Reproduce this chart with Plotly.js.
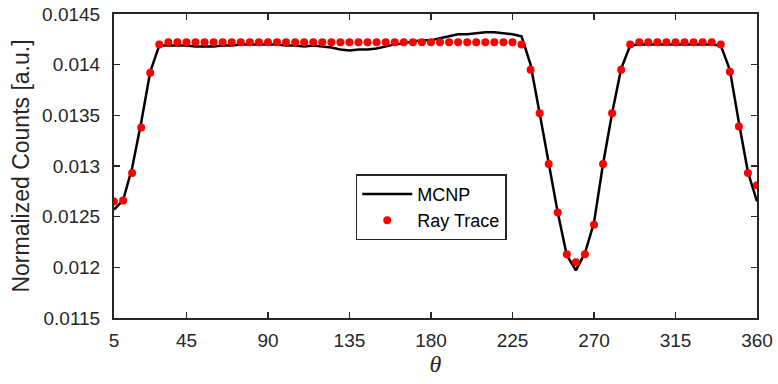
<!DOCTYPE html>
<html>
<head>
<meta charset="utf-8">
<script src="https://cdn.plot.ly/plotly-3.0.1.min.js"></script>
<style>html,body{margin:0;padding:0;background:#fff}#chart{width:778px;height:384px}</style>
</head>
<body>
<div id="chart"></div>
<script>
// Angles (degrees)
var mcnpTheta = [5,10,15,20,25,30,35,40,45,50,55,60,65,70,75,80,85,90,95,100,105,110,115,120,125,130,135,140,145,150,155,160,165,170,175,180,185,190,195,200,205,210,215,220,225,230,235,240,245,250,255,260,265,270,275,280,285,290,295,300,305,310,315,320,325,330,335,340,345,350,355,360];
var mcnpCounts = [0.01257,0.01266,0.01298,0.01343,0.01393,0.01419,0.01419,0.01419,0.01419,0.01418,0.01418,0.01418,0.01419,0.01419,0.01420,0.01420,0.01420,0.01420,0.01420,0.01419,0.01419,0.01418,0.01419,0.01418,0.01417,0.01415,0.01414,0.01415,0.01415,0.01416,0.01418,0.01420,0.01421,0.01423,0.01424,0.01424,0.01426,0.01428,0.01430,0.01430,0.01431,0.01432,0.01432,0.01431,0.01430,0.01428,0.01400,0.01352,0.01302,0.01254,0.01212,0.01197,0.01214,0.01244,0.01302,0.01352,0.01396,0.01419,0.01420,0.01420,0.01420,0.01420,0.01420,0.01420,0.01420,0.01420,0.01420,0.01419,0.01395,0.01343,0.01294,0.01265];
var rayTheta = [5,10,15,20,25,30,35,40,45,50,55,60,65,70,75,80,85,90,95,100,105,110,115,120,125,130,135,140,145,150,155,160,165,170,175,180,185,190,195,200,205,210,215,220,225,230,235,240,245,250,255,260,265,270,275,280,285,290,295,300,305,310,315,320,325,330,335,340,345,350,355,360];
var rayCounts = [0.01265,0.01266,0.01293,0.01338,0.01392,0.01420,0.01422,0.01422,0.01422,0.01422,0.01422,0.01422,0.01422,0.01422,0.01422,0.01422,0.01422,0.01422,0.01422,0.01422,0.01422,0.01422,0.01422,0.01422,0.01422,0.01422,0.01422,0.01422,0.01422,0.01422,0.01422,0.01422,0.01422,0.01422,0.01422,0.01422,0.01422,0.01422,0.01422,0.01422,0.01422,0.01422,0.01422,0.01422,0.01422,0.01420,0.01395,0.01352,0.01302,0.01254,0.01213,0.01205,0.01213,0.01242,0.01302,0.01352,0.01395,0.01420,0.01422,0.01422,0.01422,0.01422,0.01422,0.01422,0.01422,0.01422,0.01422,0.01420,0.01393,0.01339,0.01293,0.01281];
var xTicks = [5,45,90,135,180,225,270,315,360];
var yTicks = [0.0115,0.012,0.0125,0.013,0.0135,0.014,0.0145];
var yTickText = ['0.0115','0.012','0.0125','0.013','0.0135','0.014','0.0145'];

var axisColor = '#262626';
var font = 'Liberation Sans, Arial, sans-serif';

var traces = [
  {x: mcnpTheta, y: mcnpCounts, mode: 'lines', name: 'MCNP',
   line: {color: '#000000', width: 2.5}},
  {x: rayTheta, y: rayCounts, mode: 'markers', name: 'Ray Trace',
   marker: {color: '#ff0000', size: 8}}
];

var layout = {
  width: 778, height: 384,
  margin: {l: 114, r: 21, t: 14, b: 66},
  paper_bgcolor: '#ffffff', plot_bgcolor: '#ffffff',
  font: {family: font, size: 19, color: axisColor},
  showlegend: true,
  legend: {x: 0.376, y: 0.473, xanchor: 'left', yanchor: 'top',
    bordercolor: axisColor, borderwidth: 1.5, bgcolor: '#ffffff',
    itemwidth: 50,
    font: {family: font, size: 18, color: '#000'}, tracegroupgap: 0},
  xaxis: {range: [5, 360], tickvals: xTicks, ticktext: xTicks.map(String),
    ticks: 'inside', ticklen: 6, tickwidth: 1.5, tickcolor: axisColor,
    showline: true, linecolor: axisColor, linewidth: 2, mirror: 'ticks',
    showgrid: false, zeroline: false, ticklabelstandoff: 4,
    tickfont: {family: font, size: 19, color: axisColor},
    title: {text: '<i>θ</i>', font: {family: 'Liberation Serif, Times New Roman, serif', size: 24, color: axisColor}, standoff: 2}},
  yaxis: {range: [0.0115, 0.0145], tickvals: yTicks, ticktext: yTickText,
    ticks: 'inside', ticklen: 6, tickwidth: 1.5, tickcolor: axisColor,
    showline: true, linecolor: axisColor, linewidth: 2, mirror: 'ticks',
    showgrid: false, zeroline: false, ticklabelstandoff: 8,
    tickfont: {family: font, size: 19, color: axisColor},
    title: {text: 'Normalized Counts [a.u.]', font: {family: font, size: 23, color: axisColor}, standoff: 6}}
};

Plotly.newPlot('chart', traces, layout, {staticPlot: true, displayModeBar: false});
</script>
</body>
</html>
